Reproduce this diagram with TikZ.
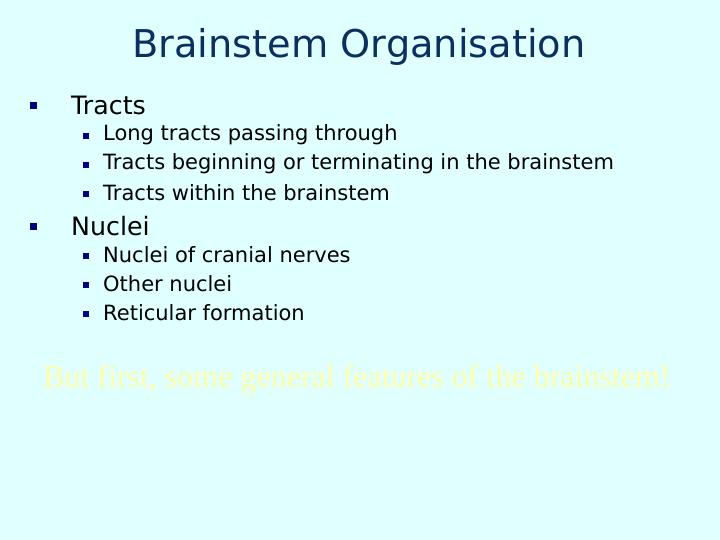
\documentclass[tikz,border=0pt]{standalone}
\usepackage{fontspec}
\setmainfont{DejaVu Sans}
\newfontfamily\serifff{Liberation Serif}
\definecolor{bg}{HTML}{E0FFFF}
\definecolor{titlec}{HTML}{0B2F5E}
\definecolor{bul}{HTML}{000080}
\definecolor{yel}{HTML}{FFFFA8}
\begin{document}
\begin{tikzpicture}[x=1pt,y=-1pt,
  lvone/.style={anchor=west,inner sep=0,font=\fontsize{25.3}{28}\selectfont},
  lvtwo/.style={anchor=west,inner sep=0,font=\fontsize{21}{24}\selectfont},
  bigb/.style={fill=bul,minimum size=7pt,inner sep=0},
  smallb/.style={fill=bul,minimum size=6pt,inner sep=0}]
\fill[bg] (0,0) rectangle (720,540);
\useasboundingbox (0,0) rectangle (720,540);
\node[inner sep=0,text=titlec,font=\fontsize{38.3}{42}\selectfont] (title) at (359,47) {Brainstem Organisation};
\node[bigb] (b1) at (33,106) {};
\node[lvone] (t1) at (71,105) {Tracts};
\node[smallb] (b11) at (86,136) {};
\node[lvtwo] (t11) at (103,135) {Long tracts passing through};
\node[smallb] (b12) at (86,165) {};
\node[lvtwo] (t12) at (103,164) {Tracts beginning or terminating in the brainstem};
\node[smallb] (b13) at (86,194) {};
\node[lvtwo] (t13) at (103,193) {Tracts within the brainstem};
\node[bigb] (b2) at (33,227) {};
\node[lvone] (t2) at (71,226) {Nuclei};
\node[smallb] (b21) at (86,256) {};
\node[lvtwo] (t21) at (103,255) {Nuclei of cranial nerves};
\node[smallb] (b22) at (86,285) {};
\node[lvtwo] (t22) at (103,284) {Other nuclei};
\node[smallb] (b23) at (86,314) {};
\node[lvtwo] (t23) at (103,313) {Reticular formation};
\node[anchor=west,inner sep=0,text=yel,font=\serifff\fontsize{32}{36}\selectfont] (note) at (43,380) {But first, some general features of the brainstem!};
\end{tikzpicture}
\end{document}
